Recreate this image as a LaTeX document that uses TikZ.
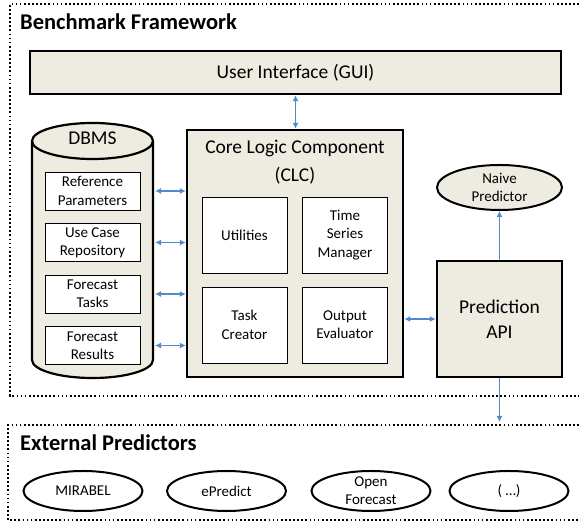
\documentclass[tikz,border=0pt]{standalone}
\usepackage{fontspec}
\setmainfont{Carlito}
\usepackage{tikz}
\usetikzlibrary{arrows.meta,shapes.geometric,positioning,calc}
\definecolor{PaperTan}{RGB}{238,236,225}
\definecolor{LinkBlue}{RGB}{79,138,203}

\tikzset{
  zone/.style={line width=1.7pt,dash pattern=on 1.7pt off 2.4pt},
  zonetitle/.style={anchor=west,inner sep=0pt,font=\fontsize{22.5}{27}\selectfont\bfseries},
  bigbox/.style={draw,line width=2.4pt,fill=PaperTan,inner sep=0pt,align=center,
    font=\fontsize{19.5}{25}\selectfont},
  subbox/.style={draw,line width=0.9pt,fill=white,inner sep=0pt,align=center,
    font=\fontsize{15}{18.3}\selectfont},
  predictor/.style={draw,ellipse,line width=2pt,inner sep=0pt,minimum width=119pt,
    minimum height=40pt,align=center,font=\fontsize{15}{18.3}\selectfont},
  link/.style={LinkBlue,line width=1.8pt,{Latex[length=6pt,width=6pt]}-{Latex[length=6pt,width=6pt]}},
  feed/.style={LinkBlue,line width=1.8pt,-{Latex[length=6pt,width=6pt]}},
}

\begin{document}
\begin{tikzpicture}[x=1pt,y=1pt]
  \useasboundingbox (0,0) rectangle (579,527);

  % benchmark framework
  \draw[zone] (579,523) -- (10,523) -- (10,131) -- (579,131);
  \node[zonetitle] (benchtitle) at (20,505) {Benchmark Framework};
  \node[bigbox,minimum width=531pt,minimum height=43pt] (gui) at (295.5,454.5) {User Interface (GUI)};

  % core logic component
  \node[bigbox,minimum width=216pt,minimum height=247pt] (clc) at (295,273.5) {};
  \node[anchor=north,inner sep=0pt,align=center,font=\fontsize{19.5}{28}\selectfont]
    (clctitle) at ([yshift=-11pt]clc.north) {Core Logic Component\\(CLC)};
  \node[subbox,minimum width=85pt,minimum height=76pt] (util) at (244.5,292) {Utilities};
  \node[subbox,minimum width=85pt,minimum height=76pt] (tsm) at (345,292) {Time\\Series\\Manager};
  \node[subbox,minimum width=85pt,minimum height=76pt] (taskc) at (244.5,202) {Task\\Creator};
  \node[subbox,minimum width=85pt,minimum height=76pt] (oeval) at (345,202) {Output\\Evaluator};

  % DBMS
  \filldraw[fill=PaperTan,line width=2.2pt] (32,386) -- (32,167)
    arc[start angle=180,end angle=360,x radius=60.5,y radius=18] -- (153,386)
    arc[start angle=0,end angle=180,x radius=60.5,y radius=18] -- cycle;
  \draw[line width=2.2pt] (32,386) arc[start angle=180,end angle=360,x radius=60.5,y radius=18];
  \node[font=\fontsize{19.5}{24}\selectfont] (dbms) at (92.5,389) {DBMS};
  \coordinate (dbmsedge) at (155,0);
  \foreach \y/\n/\t in {336/refpar/Reference\\Parameters,284.5/usecase/Use Case\\Repository,
                        233/tasks/Forecast\\Tasks,181.5/results/Forecast\\Results}{
    \node[subbox,minimum width=95pt,minimum height=38pt] (\n) at (92.5,\y) {\t};
    \draw[link] (dbmsedge |- \n) -- (clc.west |- \n);}

  % prediction
  \node[bigbox,minimum width=125pt,minimum height=116pt] (api) at (499.5,208) {Prediction\\API};
  \node[predictor,fill=PaperTan,minimum width=125pt,minimum height=45pt] (naive) at (499.5,339.5) {Naive\\Predictor};
  \draw[link] (gui.south) -- (gui.south |- clc.north);
  \draw[link] (clc.east |- api) -- (api.west);
  \draw[feed] (api.north) -- (naive.south);
  \coordinate (extin) at (499.5,105);
  \draw[feed] (api.south) -- (extin);

  % external predictors
  \draw[zone] (579,102) -- (8,102) -- (8,7) -- (579,7);
  \node[zonetitle] (exttitle) at (20,84) {External Predictors};
  \foreach \x/\n/\t in {83/mirabel/MIRABEL,226.5/epredict/ePredict,
                        371/openfc/Open\\Forecast,509/others/( \dots)}{
    \node[predictor] (\n) at (\x,36) {\t};}
\end{tikzpicture}
\end{document}
